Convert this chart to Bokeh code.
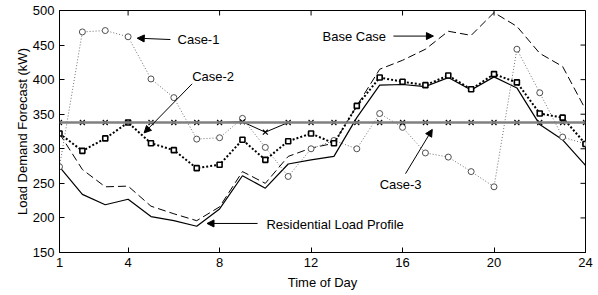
from bokeh.plotting import figure
from bokeh.models import Range1d, FixedTicker, Label, Arrow, NormalHead, Span
from bokeh.embed import file_html
from bokeh.resources import INLINE

hours = list(range(1, 25))
residential = [274, 234, 219, 227, 202, 196, 188, 213, 261, 243, 278, 284,
               289, 345, 392, 393, 390, 403, 385, 404, 388, 335, 313, 276]
base_case = [322, 270, 245, 246, 217, 206, 196, 216, 267, 250, 289, 301,
             308, 362, 415, 428, 444, 470, 464, 497, 477, 438, 419, 357]
case1 = [274, 469, 471, 462, 401, 374, 314, 316, 344, 302, 260, 300,
         312, 300, 351, 331, 294, 288, 267, 245, 444, 381, 317, 307]
case2 = [322, 297, 315, 338, 308, 298, 272, 277, 313, 284, 311, 322,
         308, 362, 403, 397, 392, 406, 386, 408, 396, 351, 345, 307]
case3 = [338, 338, 338, 338, 338, 338, 338, 338, 339, 324, 338, 338,
         338, 338, 338, 338, 338, 338, 338, 338, 338, 338, 338, 338]
threshold = 338
x_ticks = [1, 4, 8, 12, 16, 20, 24]
y_ticks = [150, 200, 250, 300, 350, 400, 450, 500]
x_min, x_max = 1, 24
y_min, y_max = 150, 500

FONT = "Liberation Sans"

p = figure(width=593, height=292, output_backend="svg", toolbar_location=None,
           x_range=Range1d(x_min, x_max), y_range=Range1d(y_min, y_max),
           min_border_left=59, min_border_right=8, min_border_top=10,
           min_border_bottom=10)
p.xgrid.visible = False
p.ygrid.visible = False
p.outline_line_color = "black"
p.outline_line_width = 1
p.background_fill_color = "white"
p.border_fill_color = "white"

for ax, ticks in ((p.xaxis[0], x_ticks), (p.yaxis[0], y_ticks)):
    ax.ticker = FixedTicker(ticks=ticks)
    ax.major_tick_in = 5
    ax.major_tick_out = 0
    ax.minor_tick_in = 0
    ax.minor_tick_out = 0
    ax.axis_line_color = "black"
    ax.major_tick_line_color = "black"
    ax.major_label_text_font = FONT
    ax.major_label_text_font_size = "13px"
    ax.major_label_text_color = "black"
    ax.axis_label_text_font = FONT
    ax.axis_label_text_font_size = "13px"
    ax.axis_label_text_font_style = "normal"
    ax.axis_label_text_color = "black"

p.xaxis[0].axis_label = "Time of Day"
p.yaxis[0].axis_label = "Load Demand Forecast (kW)"
p.xaxis[0].major_label_standoff = 5
p.xaxis[0].axis_label_standoff = 5
p.yaxis[0].major_label_standoff = 5
p.yaxis[0].axis_label_standoff = 0

# mirrored inward ticks on the top and right edges
tick_dy = (y_max - y_min) * 5 / 241
tick_dx = (x_max - x_min) * 5 / 526
p.segment(x0=x_ticks, y0=[y_max] * len(x_ticks), x1=x_ticks,
          y1=[y_max - tick_dy] * len(x_ticks), line_color="black", line_width=1)
p.segment(x0=[x_max] * len(y_ticks), y0=y_ticks, x1=[x_max - tick_dx] * len(y_ticks),
          y1=y_ticks, line_color="black", line_width=1)

# threshold band
p.add_layout(Span(location=threshold, dimension="width", line_color="#808080",
                  line_width=2.5))

# Base case
p.line(hours, base_case, line_color="black", line_width=1, line_dash="8 4")
# Residential
p.line(hours, residential, line_color="black", line_width=1.2)
# Case-1
p.line(hours, case1, line_color="#707070", line_width=1, line_dash="1 2")
p.scatter(hours, case1, marker="circle", size=6, line_color="#505050",
          fill_color="white", line_width=1)
# Case-2
p.line(hours, case2, line_color="black", line_width=2, line_dash="2 2")
p.scatter(hours, case2, marker="square", size=5, line_color="black",
          fill_color="white", line_width=1.6)
# Case-3
p.line(hours, case3, line_color="black", line_width=1)
p.scatter(hours, case3, marker="x", size=7, line_color="black", line_width=1.2)

def label(x, y, t):
    p.add_layout(Label(x=x, y=y, text=t, text_font=FONT, text_font_size="13px",
                       text_baseline="middle", text_align="left",
                       text_color="black"))

def arrow(x0, y0, x1, y1):
    p.add_layout(Arrow(end=NormalHead(size=7, fill_color="black",
                                      line_color="black"),
                       x_start=x0, y_start=y0, x_end=x1, y_end=y1,
                       line_color="black", line_width=1))

label(6.16, 458, "Case-1")
arrow(5.85, 458, 4.4, 460)
label(6.8, 405, "Case-2")
arrow(6.8, 394, 4.7, 323)
label(12.5, 462, "Base Case")
arrow(15.6, 463, 17.35, 463)
label(15.0, 249, "Case-3")
arrow(16.13, 264, 17.3, 328)
label(10.05, 191, "Residential Load Profile")
arrow(9.66, 192, 7.45, 192)

open("out.html", "w").write(file_html(p, INLINE))
